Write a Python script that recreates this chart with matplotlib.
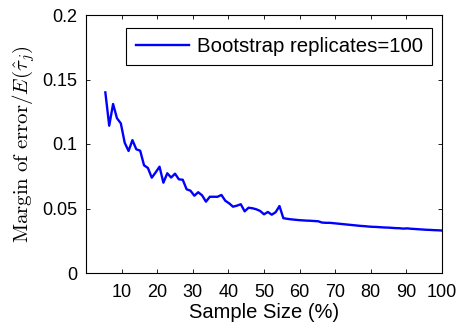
import numpy as np
import matplotlib
matplotlib.use("Agg")
import matplotlib.pyplot as plt

plt.rcParams["font.family"] = ["Liberation Sans", "DejaVu Sans"]
plt.rcParams["mathtext.fontset"] = "cm"

# Sample counts out of a population of 92 units
total_units = 92
sample_counts = np.arange(5, 93)
sample_pct = sample_counts / total_units * 100

margin_ratio = [
    0.1400, 0.1142, 0.1310, 0.1200, 0.1160, 0.1010, 0.0946, 0.1030, 0.0959, 0.0948,
    0.0835, 0.0814, 0.0739, 0.0780, 0.0824, 0.0700, 0.0773, 0.0740, 0.0770, 0.0726,
    0.0723, 0.0649, 0.0638, 0.0599, 0.0626, 0.0602, 0.0553, 0.0591, 0.0591, 0.0591,
    0.0605, 0.0560, 0.0540, 0.0514, 0.0522, 0.0533, 0.0478, 0.0506, 0.0502, 0.0494,
    0.0481, 0.0455, 0.0473, 0.0452, 0.0471, 0.0519, 0.0425, 0.0420, 0.0416, 0.0413,
    0.0410, 0.0408, 0.0406, 0.0405, 0.0403, 0.0401, 0.0391, 0.0389, 0.0389, 0.0386,
    0.0383, 0.0380, 0.0377, 0.0374, 0.0371, 0.0368, 0.0365, 0.0363, 0.0360, 0.0358,
    0.0357, 0.0355, 0.0353, 0.0352, 0.0350, 0.0348, 0.0347, 0.0344, 0.0346, 0.0343,
    0.0341, 0.0339, 0.0337, 0.0335, 0.0334, 0.0332, 0.0331, 0.0329,
]

x_ticks = [10, 20, 30, 40, 50, 60, 70, 80, 90, 100]
y_ticks = [0, 0.05, 0.1, 0.15, 0.2]
y_tick_labels = ["0", "0.05", "0.1", "0.15", "0.2"]

fig = plt.figure(figsize=(4.61, 3.26), dpi=100)
ax = fig.add_axes([86 / 461, 53 / 326, 356 / 461, 258 / 326])

ax.plot(sample_pct, margin_ratio, color=(0, 0, 1), lw=1.7,
        label="Bootstrap replicates=100")

ax.set_xlim(0, 100)
ax.set_ylim(0, 0.2)
ax.set_xticks(x_ticks)
ax.set_xticklabels([str(t) for t in x_ticks])
ax.set_yticks(y_ticks)
ax.set_yticklabels(y_tick_labels)
ax.tick_params(axis="x", pad=8)
ax.tick_params(direction="in", top=True, right=True, length=3, width=0.6,
               labelsize=13)
ax.tick_params(axis="y", pad=6)
for s in ax.spines.values():
    s.set_linewidth(0.8)

ax.set_xlabel("Sample Size (%)", fontsize=14.5, labelpad=1)
ax.set_ylabel(r"$\mathrm{Margin\ of\ error}/E(\hat{\tau}_j)$", fontsize=15,
              labelpad=4)

leg = ax.legend(loc="upper right", bbox_to_anchor=(346 / 356, 245 / 258),
                borderaxespad=0, fontsize=14.7, fancybox=False,
                edgecolor="black", framealpha=1, handlelength=2.6,
                borderpad=0.45, handletextpad=0.4)
leg.get_frame().set_linewidth(0.8)

fig.savefig("out.png", dpi=100)
